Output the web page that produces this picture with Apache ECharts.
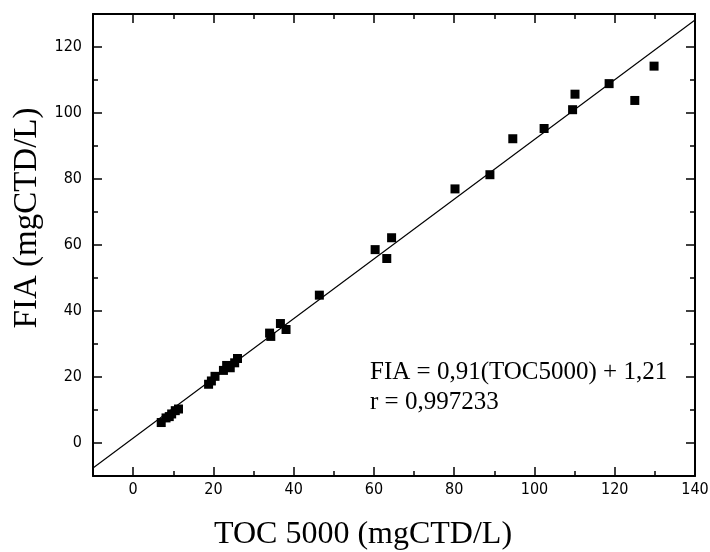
<!DOCTYPE html>
<html>
<head>
<meta charset="utf-8">
<script src="https://cdn.jsdelivr.net/npm/echarts@6/dist/echarts.min.js"></script>
<style>html,body{margin:0;padding:0;background:#fff}#c{width:710px;height:552px}</style>
</head>
<body>
<div id="c"></div>
<script>
// Measured points (TOC 5000, FIA), mgCTD/L
const tocValues = [7.0, 8.2, 9.0, 9.6, 10.5, 11.3, 18.8, 19.5, 20.4, 22.5, 23.3, 24.2, 25.3, 26.0,
  34.0, 34.3, 36.7, 38.1, 46.4, 60.3, 63.2, 64.4, 80.2, 88.9, 94.6, 102.4, 109.5, 110.1, 118.6, 125.0, 129.8];
const fiaValues = [6.2, 7.6, 8.0, 8.8, 9.8, 10.3, 17.8, 18.8, 20.2, 22.0, 23.5, 22.8, 24.3, 25.6,
  33.3, 32.3, 36.2, 34.4, 44.8, 58.6, 55.9, 62.2, 77.0, 81.3, 92.2, 95.3, 101.0, 105.7, 108.9, 103.8, 114.2];
// Fitted line end points
const fitX = [-10, 140];
const fitY = [-7.6, 128.2];
// Tick values
const xMajorTicks = [0, 20, 40, 60, 80, 100, 120, 140];
const xMinorTicks = [10, 30, 50, 70, 90, 110, 130];
const yMajorTicks = [0, 20, 40, 60, 80, 100, 120];
const yMinorTicks = [10, 30, 50, 70, 90, 110, 130];
const xTitle = 'TOC 5000 (mgCTD/L)';
const yTitle = 'FIA (mgCTD/L)';
const annotLines = ['FIA = 0,91(TOC5000) + 1,21', 'r = 0,997233'];

const labelFont = "'Liberation Sans Narrow', 'Arial Narrow', 'DejaVu Sans Condensed', sans-serif";
const serif = "'Liberation Serif', 'Times New Roman', serif";

function axisX(pos, ticks, len, withLine, withLabels, extra) {
  return Object.assign({
    type: 'value', position: pos, min: -10, max: 140, gridIndex: 0,
    axisLine: { show: withLine, onZero: false, lineStyle: { color: '#000', width: 2 } },
    axisTick: { show: true, inside: true, length: len, customValues: ticks, lineStyle: { color: '#000', width: 1.5 } },
    axisLabel: withLabels ? { show: true, customValues: ticks, margin: 6, color: '#000', fontSize: 16, fontFamily: labelFont } : { show: false },
    splitLine: { show: false }
  }, extra || {});
}
function axisY(pos, ticks, len, withLine, withLabels, extra) {
  return Object.assign({
    type: 'value', position: pos, min: -10, max: 130, gridIndex: 0,
    axisLine: { show: withLine, onZero: false, lineStyle: { color: '#000', width: 2 } },
    axisTick: { show: true, inside: true, length: len, customValues: ticks, lineStyle: { color: '#000', width: 1.5 } },
    axisLabel: withLabels ? { show: true, customValues: ticks, margin: 11, color: '#000', fontSize: 16, fontFamily: labelFont } : { show: false },
    splitLine: { show: false }
  }, extra || {});
}

const chart = echarts.init(document.getElementById('c'), null, { renderer: 'canvas' });
chart.setOption({
  backgroundColor: '#fff',
  animation: false,
  grid: { left: 93, right: 15, top: 14, bottom: 76, containLabel: false, outerBoundsMode: 'none' },
  xAxis: [
    axisX('bottom', xMajorTicks, 9, true, true, {
      name: xTitle, nameLocation: 'middle', nameGap: 43,
      nameTextStyle: { fontFamily: serif, fontSize: 32, color: '#000', padding: [0, 62, 0, 0] }
    }),
    axisX('bottom', xMinorTicks, 5, false, false),
    axisX('top', xMajorTicks, 9, true, false),
    axisX('top', xMinorTicks, 5, false, false)
  ],
  yAxis: [
    axisY('left', yMajorTicks, 9, true, true, {
      name: yTitle, nameLocation: 'middle', nameGap: 49,
      nameTextStyle: { fontFamily: serif, fontSize: 33, color: '#000', padding: [0, 0, 0, 54] }
    }),
    axisY('left', yMinorTicks, 5, false, false),
    axisY('right', yMajorTicks, 9, true, false),
    axisY('right', yMinorTicks, 5, false, false)
  ],
  series: [
    {
      type: 'line', xAxisIndex: 0, yAxisIndex: 0,
      data: fitX.map((x, i) => [x, fitY[i]]),
      symbol: 'none', lineStyle: { color: '#000', width: 1.2 }, clip: true, z: 2
    },
    {
      type: 'scatter', xAxisIndex: 0, yAxisIndex: 0,
      data: tocValues.map((x, i) => [x, fiaValues[i]]),
      symbol: 'rect', symbolSize: 9, itemStyle: { color: '#000', opacity: 1 }, z: 3
    }
  ],
  graphic: [
    { type: 'text', left: 370, top: 360, style: { text: annotLines[0], font: "25px " + serif, fill: '#000' } },
    { type: 'text', left: 370, top: 390, style: { text: annotLines[1], font: "25px " + serif, fill: '#000' } }
  ]
});
</script>
</body>
</html>
